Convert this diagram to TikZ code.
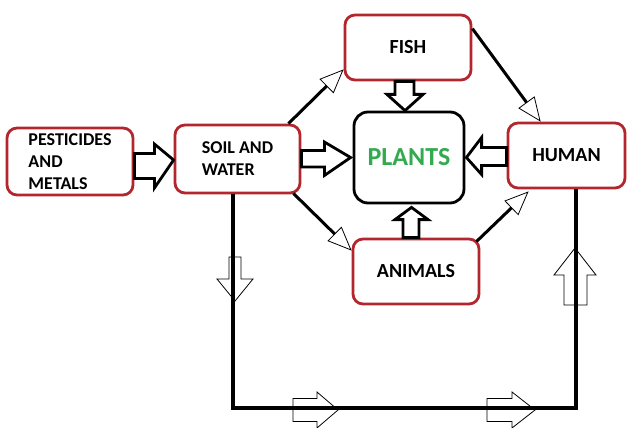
\documentclass[tikz,border=0pt]{standalone}
\usepackage{fontspec}
\setmainfont{Carlito}
\usetikzlibrary{arrows.meta,calc}
\definecolor{boxred}{RGB}{180,38,46}
\definecolor{plantgreen}{RGB}{50,170,80}
\tikzset{
  box/.style={draw=boxred, line width=2.8pt, rounded corners=10pt, fill=white,
    inner sep=0pt, font=\bfseries\fontsize{20}{23}\selectfont},
  smallbox/.style={box, font=\bfseries\fontsize{18}{22}\selectfont, align=left},
  plantbox/.style={draw=black, line width=2.8pt, rounded corners=14pt, inner sep=0pt,
    text=plantgreen, font=\bfseries\fontsize{26}{30}\selectfont},
  link/.style={line width=3pt, -{Triangle[open, length=24pt, width=20pt, line width=0.8pt]}},
  loopline/.style={line width=3.3pt},
  blk/.style={draw=black, line width=2.8pt, fill=white, line join=miter},
  thinblk/.style={draw=black, line width=0.8pt, line join=miter},
}
\begin{document}
\begin{tikzpicture}[x=1pt, y=-1pt]
\useasboundingbox (0,0) rectangle (627,428);

% boxes
\node[smallbox, minimum width=126pt, minimum height=67pt] (pest) at (70,161.5) {PESTICIDES\\AND\\METALS};
\node[smallbox, minimum width=125pt, minimum height=68pt] (soil) at (237.5,159) {SOIL AND\\WATER};
\node[box, minimum width=126pt, minimum height=65pt] (fish) at (408,47.5) {FISH};
\node[plantbox, minimum width=110pt, minimum height=91pt] (plants) at (409,157.5) {PLANTS};
\node[box, minimum width=117pt, minimum height=65pt] (human) at (566.5,155.5) {HUMAN};
\node[box, minimum width=126pt, minimum height=65pt] (animals) at (416,271.5) {ANIMALS};

% thin connectors with open triangle heads
\draw[link] ([xshift=-13pt]soil.north east) -- ([yshift=12pt]fish.south west);
\draw[link] ([yshift=-15pt]fish.north east) -- ([xshift=34pt]human.north west);
\draw[link] ([xshift=-8pt,yshift=1pt]soil.south east) -- ([yshift=-13pt]animals.north west);
\draw[link] ([xshift=-4pt,yshift=-4pt]animals.north east) -- ([xshift=22pt,yshift=-2pt]human.south west);

% bottom loop
\coordinate (loopA) at (soil.south -| 233,0);
\coordinate (loopB) at (233,408);
\coordinate (loopC) at (576,408);
\coordinate (loopD) at (human.south -| 576,0);
\draw[loopline] (loopA) -- (loopB) -- (loopC) -- (loopD);

% block arrows between boxes
% pesticides -> soil
\draw[blk] ($(pest.east)+(0,-8)$) -- ++(20,0) -- ++(0,-9.5) -- ($(soil.west)+(0,1)$)
  -- ($(pest.east)+(20,26.5)$) -- ++(0,-9.5) -- ++(-20,0) -- cycle;
% soil -> plants
\draw[blk] ($(soil.east)+(0,-8.5)$) -- ++(23,0) -- ++(0,-8.5) -- ($(plants.west)+(-2,0)$)
  -- ($(soil.east)+(23,16.5)$) -- ++(0,-8.5) -- ++(-23,0) -- cycle;
% human -> plants
\draw[blk] ($(human.west)+(0,-8)$) -- ++(-25,0) -- ++(0,-10) -- ($(plants.east)+(1,0)$)
  -- ($(human.west)+(-25,19)$) -- ++(0,-9) -- ++(25,0) -- cycle;
% fish -> plants
\draw[blk] ($(fish.south)+(-13,0)$) -- ++(0,13) -- ++(-8,0) -- ($(plants.north)+(-4,0)$)
  -- ($(fish.south)+(15,13)$) -- ++(-9,0) -- ++(0,-13) -- cycle;
% animals -> plants
\draw[blk] ($(animals.north)+(-13,0)$) -- ++(0,-18) -- ++(-8,0) -- ($(plants.south)+(2.5,3)$)
  -- ($(animals.north)+(12,-18)$) -- ++(-9,0) -- ++(0,18) -- cycle;

% thin hollow arrows on the loop
% down on left
\draw[thinblk] (229,257) -- (241,257) -- (241,279) -- (253,279) -- (235,301) -- (217,279) -- (229,279) -- cycle;
% right on bottom (1)
\draw[thinblk] (293,398.5) -- (317,398.5) -- (317,392) -- (338,410) -- (317,428) -- (317,421.5) -- (293,421.5) -- cycle;
% right on bottom (2)
\draw[thinblk] (487,398.5) -- (512,398.5) -- (512,392) -- (535,410) -- (512,428) -- (512,421.5) -- (487,421.5) -- cycle;
% up on right
\draw[thinblk] (564,305) -- (587,305) -- (587,275) -- (596,275) -- (575,248) -- (554,275) -- (564,275) -- cycle;
\end{tikzpicture}
\end{document}
